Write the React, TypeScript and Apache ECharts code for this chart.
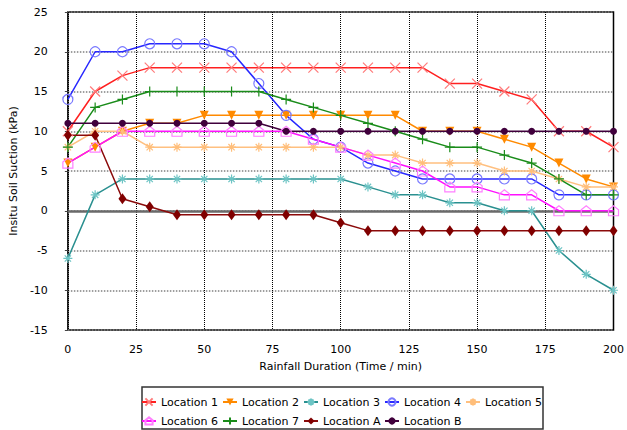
import React, { useEffect, useRef } from "react";
import * as echarts from "echarts";

const durations = [0, 10, 20, 30, 40, 50, 60, 70, 80, 90, 100, 110, 120, 130, 140, 150, 160, 170, 180, 190, 200];

const location1 = [10, 15, 17, 18, 18, 18, 18, 18, 18, 18, 18, 18, 18, 18, 16, 16, 15, 14, 10, 10, 8];
const location2 = [6, 8, 10, 11, 11, 12, 12, 12, 12, 12, 12, 12, 12, 10, 10, 10, 9, 8, 6, 4, 3];
const location3 = [-6, 2, 4, 4, 4, 4, 4, 4, 4, 4, 4, 3, 2, 2, 1, 1, 0, 0, -5, -8, -10];
const location4 = [14, 20, 20, 21, 21, 21, 20, 16, 12, 9, 8, 6, 5, 4, 4, 4, 4, 4, 2, 2, 2];
const location5 = [8, 10, 10, 8, 8, 8, 8, 8, 8, 8, 8, 7, 7, 6, 6, 6, 5, 5, 4, 3, 3];
const location6 = [6, 8, 10, 10, 10, 10, 10, 10, 10, 9, 8, 7, 6, 5, 3, 3, 2, 2, 0, 0, 0];
const location7 = [8, 13, 14, 15, 15, 15, 15, 15, 14, 13, 12, 11, 10, 9, 8, 8, 7, 6, 4, 2, 2];
const locationA = [9.5, 9.5, 1.5, 0.5, -0.5, -0.5, -0.5, -0.5, -0.5, -0.5, -1.5, -2.5, -2.5, -2.5, -2.5, -2.5, -2.5, -2.5, -2.5, -2.5, -2.5];
const locationB = [11, 11, 11, 11, 11, 11, 11, 11, 10, 10, 10, 10, 10, 10, 10, 10, 10, 10, 10, 10, 10];

const seriesNames = ["Location 1", "Location 2", "Location 3", "Location 4", "Location 5", "Location 6", "Location 7", "Location A", "Location B"];

const xTitle = "Rainfall Duration (Time / min)";
const yTitle = "Insitu Soil Suction (kPa)";

const FONT = "DejaVu Sans";

const SYM_X = "path://M0,0L10,10M10,0L0,10";
const SYM_STAR = "path://M5,0L5,10M0,5L10,5M1.5,1.5L8.5,8.5M8.5,1.5L1.5,8.5";
const SYM_TRI_DOWN = "path://M0,0L10,0L5,10Z";
const SYM_PLUS = "path://M5,0L5,10M0,5L10,5";
const SYM_HOUSE = "path://M0,4L5,0L10,4L10,10L0,10Z";

function mk(name: string, vals: number[], lineColor: string, symbol: string, size: any, item: any, z = 2) {
  return {
    name,
    type: "line",
    data: durations.map((d, i) => [d, vals[i]]),
    color: lineColor,
    lineStyle: { color: lineColor, width: 1.5 },
    symbol,
    symbolSize: size,
    showSymbol: true,
    itemStyle: item,
    z,
  };
}

export default function App() {
  const ref = useRef<HTMLDivElement>(null);
  useEffect(() => {
    if (!ref.current) return;
    const chart = echarts.init(ref.current, null, { renderer: "svg" });
    const series: any[] = [
      mk(seriesNames[0], location1, "#ff2020", SYM_X, 10, { color: "none", borderColor: "#ff7a7a", borderWidth: 1.2 }),
      mk(seriesNames[1], location2, "#ff8a00", SYM_TRI_DOWN, 9, { color: "#ff8a00", borderColor: "#ff8a00", borderWidth: 0 }),
      mk(seriesNames[2], location3, "#2a9090", SYM_STAR, 9, { color: "none", borderColor: "#6cc4c4", borderWidth: 1.2 }),
      mk(seriesNames[3], location4, "#2828ff", "circle", 10, { color: "none", borderColor: "#7a7aff", borderWidth: 1.2 }),
      mk(seriesNames[4], location5, "#ffc080", SYM_STAR, 9, { color: "none", borderColor: "#ffbe7a", borderWidth: 1.2 }),
      mk(seriesNames[5], location6, "#ff10ff", SYM_HOUSE, 10, { color: "none", borderColor: "#ff80ff", borderWidth: 1.2 }),
      mk(seriesNames[6], location7, "#1a8c1a", SYM_PLUS, 10, { color: "none", borderColor: "#1a8c1a", borderWidth: 1.2 }),
      mk(seriesNames[7], locationA, "#8b0a0a", "diamond", [8, 11], { color: "#800000", borderColor: "#800000", borderWidth: 0 }),
      mk(seriesNames[8], locationB, "#40003c", "circle", 7, { color: "#40003c", borderColor: "#40003c", borderWidth: 0 }),
    ];
    series[0].markLine = {
      silent: true,
      symbol: "none",
      label: { show: false },
      lineStyle: { color: "#6a6a6a", width: 2.5, type: "solid" },
      data: [{ yAxis: 0 }],
      z: 1,
    };
    chart.setOption({
      animation: false,
      grid: { left: 67, right: 8, top: 12, bottom: 100, show: true, borderColor: "#000", borderWidth: 1.5, backgroundColor: "transparent" },
      xAxis: {
        type: "value",
        min: 0,
        max: 200,
        interval: 25,
        axisLine: { show: false },
        axisTick: { show: false },
        axisLabel: { margin: 14, fontFamily: FONT, fontSize: 11, color: "#000" },
        splitLine: { show: true, lineStyle: { color: "#000", type: "dotted", width: 1 } },
        name: xTitle,
        nameLocation: "middle",
        nameGap: 31,
        nameTextStyle: { fontFamily: FONT, fontSize: 11, color: "#000" },
      },
      yAxis: {
        type: "value",
        min: -15,
        max: 25,
        interval: 5,
        axisLine: { show: false },
        axisTick: { show: true, length: 3, lineStyle: { color: "#444" } },
        axisLabel: { margin: 20, fontFamily: FONT, fontSize: 11, color: "#000" },
        splitLine: { show: true, lineStyle: { color: "#808080", type: "dotted", width: 1.5 } },
        name: yTitle,
        nameLocation: "middle",
        nameGap: 47,
        nameTextStyle: { fontFamily: FONT, fontSize: 11, color: "#000" },
      },
      legend: {
        data: seriesNames,
        left: 141,
        top: 394,
        width: 425,
        padding: 0,
        itemGap: 3,
        itemWidth: 14,
        itemHeight: 9,
        textStyle: { fontFamily: FONT, fontSize: 11, color: "#000", width: 58, lineHeight: 16 },
      },
      graphic: [
        {
          type: "rect",
          shape: { x: 142, y: 387, width: 401, height: 42 },
          style: { fill: "none", stroke: "#333", lineWidth: 1.5 },
          silent: true,
        },
      ],
      series,
    });
    return () => chart.dispose();
  }, []);
  return <div ref={ref} style={{ width: 627, height: 430, position: "absolute", left: 0, top: 0, background: "#fff" }} />;
}
